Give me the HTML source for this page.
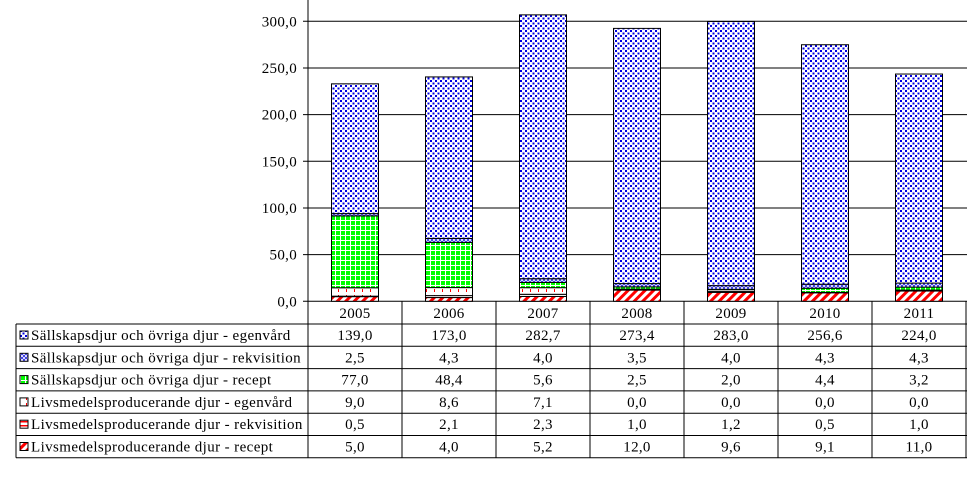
<!DOCTYPE html>
<html><head><meta charset="utf-8"><style>
body{margin:0;background:#fff;}
svg text{font-family:"Liberation Serif",serif;font-size:15px;fill:#000;}
</style></head><body>
<svg width="967" height="480" viewBox="0 0 967 480" xmlns="http://www.w3.org/2000/svg">
<defs>
<pattern id="p0" width="5" height="5" patternUnits="userSpaceOnUse"><rect width="5" height="5" fill="#fff"/><rect x="0" y="0" width="2" height="2" fill="#0000e0"/><rect x="2.5" y="2.5" width="2" height="2" fill="#0000e0"/></pattern>
<pattern id="p1" width="4" height="4" patternUnits="userSpaceOnUse"><rect width="4" height="4" fill="#fff"/><path d="M0 0L4 4M4 0L0 4" stroke="#2020e0" stroke-width="0.8"/></pattern>
<pattern id="p2" width="5" height="5" patternUnits="userSpaceOnUse"><rect width="5" height="5" fill="#00ff00"/><path d="M0 0.5H5M0.5 0V5" stroke="#fff" stroke-width="1"/></pattern>
<pattern id="p3" width="8" height="6" patternUnits="userSpaceOnUse"><rect width="8" height="6" fill="#fff"/><rect x="2" y="1" width="1" height="3" fill="#ff0000"/></pattern>
<pattern id="p4" width="4" height="4" patternUnits="userSpaceOnUse"><rect width="4" height="4" fill="#fff"/><rect x="0" y="1" width="4" height="1.5" fill="#ff0000"/></pattern>
<pattern id="p5" width="6" height="6" patternUnits="userSpaceOnUse" patternTransform="rotate(45)"><rect width="6" height="6" fill="#fff"/><rect x="0" y="0" width="3" height="6" fill="#ff0000"/></pattern>
</defs>
<g id="chart"></g>
</svg>
<script>
const years=["2005","2006","2007","2008","2009","2010","2011"];
const seriesNames=["Sällskapsdjur och övriga djur - egenvård","Sällskapsdjur och övriga djur - rekvisition","Sällskapsdjur och övriga djur - recept","Livsmedelsproducerande djur - egenvård","Livsmedelsproducerande djur - rekvisition","Livsmedelsproducerande djur - recept"];
const sEgen=[139.0,173.0,282.7,273.4,283.0,256.6,224.0];
const sRekv=[2.5,4.3,4.0,3.5,4.0,4.3,4.3];
const sRecept=[77.0,48.4,5.6,2.5,2.0,4.4,3.2];
const lEgen=[9.0,8.6,7.1,0.0,0.0,0.0,0.0];
const lRekv=[0.5,2.1,2.3,1.0,1.2,0.5,1.0];
const lRecept=[5.0,4.0,5.2,12.0,9.6,9.1,11.0];
const yTicks=[0,50,100,150,200,250,300];
const series=[sEgen,sRekv,sRecept,lEgen,lRekv,lRecept];
const fills=["url(#p0)","url(#p1)","url(#p2)","url(#p3)","url(#p4)","url(#p5)"];
const NS="http://www.w3.org/2000/svg";
const g=document.getElementById('chart');
const x0=308,colW=94,yZero=301.3,pxPer=280/300;
const y=v=>yZero-v*pxPer;
function mk(t,a,txt){const e=document.createElementNS(NS,t);for(const k in a)e.setAttribute(k,a[k]);if(txt!==undefined)e.textContent=txt;g.appendChild(e);return e;}
const fmt=v=>v.toFixed(1).replace('.',',');
yTicks.forEach(t=>{
 const l=mk('line',{x1:303,x2:967,y1:y(t),y2:y(t),stroke:'#000','stroke-width':1});
 
 const tx=mk('text',{x:297,y:y(t)+5,'text-anchor':'end','letter-spacing':'0.3'},fmt(t));
 
});
const ax=mk('line',{x1:x0,x2:x0,y1:0,y2:yZero,stroke:'#000'});

years.forEach((yr,i)=>{
 let base=0;const bx=x0+i*colW+23.5;
 for(let s=series.length-1;s>=0;s--){
  const v=series[s][i];if(v<=0)continue;
  const r=mk('rect',{x:bx,y:y(base+v),width:47,height:v*pxPer,fill:fills[s],stroke:'#000','stroke-width':1});
  
  base+=v;
 }
});
const rowH=22.3,tTop=301.3,hdrBot=324;
const vlx=[16];for(let i=0;i<=years.length;i++)vlx.push(x0+i*colW);
years.forEach((yr,i)=>{const t=mk('text',{x:x0+i*colW+47,y:318,'text-anchor':'middle','letter-spacing':'0.3'},yr);});
for(let r=0;r<=6;r++){const yy=hdrBot+r*rowH;const l=mk('line',{x1:16,x2:967,y1:yy,y2:yy,stroke:'#000'});}
const tb=hdrBot+6*rowH;
vlx.forEach((xx,k)=>{const l=mk('line',{x1:xx,x2:xx,y1:k===0?hdrBot:tTop,y2:tb,stroke:'#000'});});
series.forEach((arr,s)=>{
 const yy=hdrBot+s*rowH;
 const k=mk('rect',{x:20,y:yy+7,width:8,height:8,fill:fills[s],stroke:'#000','stroke-width':1});
 
 const lt=mk('text',{x:31,y:yy+16,'letter-spacing':'0.4'},seriesNames[s]);
 
 arr.forEach((v,i)=>{const t=mk('text',{x:x0+i*colW+47,y:yy+16,'text-anchor':'middle','letter-spacing':'0.3'},fmt(v));});
});
</script>
</body></html>
